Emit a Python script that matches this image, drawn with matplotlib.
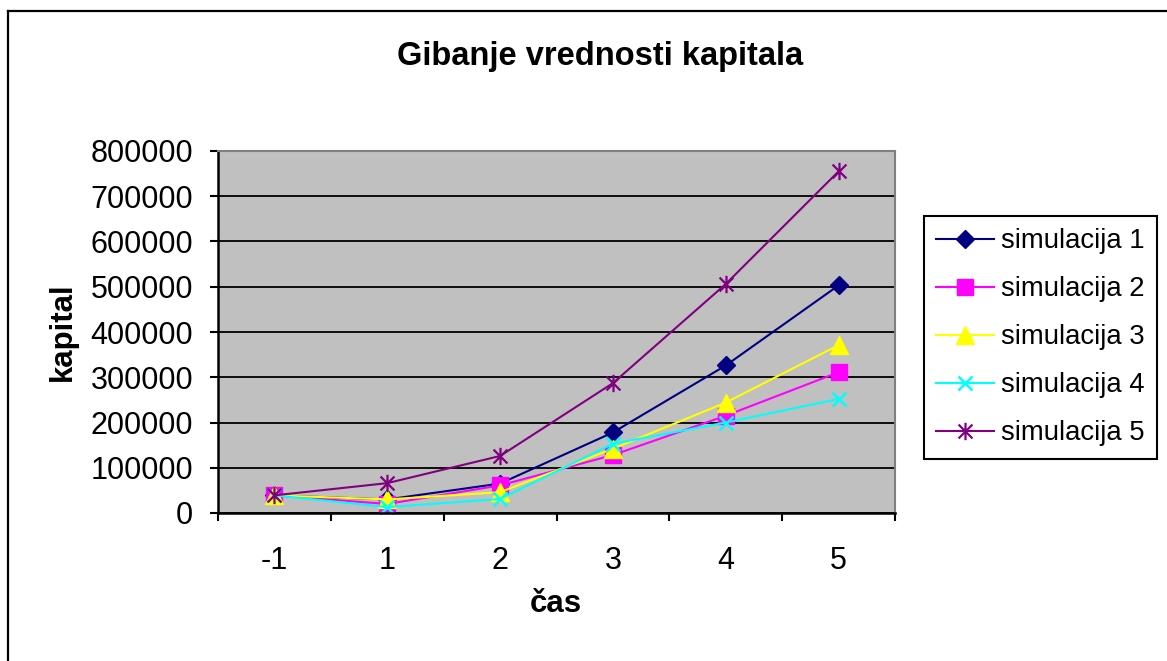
import matplotlib
matplotlib.use('Agg')
import matplotlib.pyplot as plt
from matplotlib.path import Path
from matplotlib.lines import Line2D
import numpy as np

# ---- data ----
categories = ['-1', '1', '2', '3', '4', '5']
sim1 = [39000, 30000, 65000, 178000, 326000, 503000]
sim2 = [39000, 20000, 61000, 128000, 215000, 311000]
sim3 = [39000, 30000, 46000, 142000, 244000, 371000]
sim4 = [39000, 13000, 31000, 153000, 200000, 252000]
sim5 = [39000, 66000, 126000, 287000, 506000, 755000]
series_names = ['simulacija 1', 'simulacija 2', 'simulacija 3', 'simulacija 4', 'simulacija 5']
y_ticks = [0, 100000, 200000, 300000, 400000, 500000, 600000, 700000, 800000]

plt.rcParams['font.family'] = ['Liberation Sans', 'DejaVu Sans']

W, H = 1167, 661
fig = plt.figure(figsize=(W / 100, H / 100), dpi=100)
ax = fig.add_axes([218 / W, 1 - 513 / H, (895 - 218) / W, (513 - 151) / H])
ax.set_facecolor('#C0C0C0')

x = np.arange(len(categories))
C = Path.MOVETO
L = Path.LINETO
star = Path([(0, -1), (0, 1), (-0.8, -0.8), (0.8, 0.8), (-0.8, 0.8), (0.8, -0.8)],
            [C, L, C, L, C, L])

styles = [
    dict(color='#000080', marker='D', markersize=9),
    dict(color='#FF00FF', marker='s', markersize=11.5),
    dict(color='#FFFF00', marker='^', markersize=12.5),
    dict(color='#00FFFF', marker='x', markersize=10.5, markeredgewidth=1.8),
    dict(color='#800080', marker=star, markersize=12.5, markeredgewidth=1.6),
]
data = [sim1, sim2, sim3, sim4, sim5]
handles = []
for vals, name, st in zip(data, series_names, styles):
    h, = ax.plot(x, vals, linewidth=1.5, label=name, clip_on=False, **st)
    handles.append(h)

ax.set_xlim(-0.5, 5.5)
ax.set_ylim(0, 800000)
ax.set_yticks(y_ticks)
ax.set_yticklabels([str(v) for v in y_ticks])
ax.tick_params(axis='y', direction='out', length=6, width=1.5, pad=12, labelsize=22)

ax.set_xticks(np.arange(-0.5, 6.0, 1.0))
ax.set_xticklabels([])
ax.tick_params(axis='x', which='major', direction='out', length=6, width=1.5)
ax.set_xticks(x, minor=True)
ax.set_xticklabels(categories, minor=True)
ax.tick_params(axis='x', which='minor', length=0, pad=24, labelsize=22)

ax.yaxis.grid(True, color='black', linewidth=1.3)
ax.set_axisbelow(True)
for s in ['left', 'bottom']:
    ax.spines[s].set_color('black')
    ax.spines[s].set_linewidth(1.8)
for s in ['top', 'right']:
    ax.spines[s].set_color('#808080')
    ax.spines[s].set_linewidth(1.5)

leg = fig.legend(handles, series_names, loc='upper left',
                 bbox_to_anchor=(924 / W, 1 - 216 / H), borderaxespad=0,
                 fontsize=19.8, frameon=True, fancybox=False, framealpha=1,
                 edgecolor='black', handlelength=2.1, handletextpad=0.25,
                 labelspacing=0.8, borderpad=0.45)
leg.get_frame().set_linewidth(1.5)

fig.text(600 / W, 1 - 56 / H, 'Gibanje vrednosti kapitala', ha='center', va='center',
         fontsize=23.5, fontweight='bold')
fig.text(63 / W, 1 - 332 / H, 'kapital', ha='center', va='center', rotation=90,
         fontsize=22.5, fontweight='bold')
fig.text(556 / W, 1 - 604 / H, 'čas', ha='center', va='center',
         fontsize=22.5, fontweight='bold')

# outer chart frame
fig.add_artist(Line2D([8 / W, 8 / W], [0, 1 - 11 / H], transform=fig.transFigure,
                      color='black', linewidth=1.6))
fig.add_artist(Line2D([8 / W, 1], [1 - 11 / H, 1 - 11 / H], transform=fig.transFigure,
                      color='black', linewidth=1.6))

fig.savefig('out.png', dpi=100)
